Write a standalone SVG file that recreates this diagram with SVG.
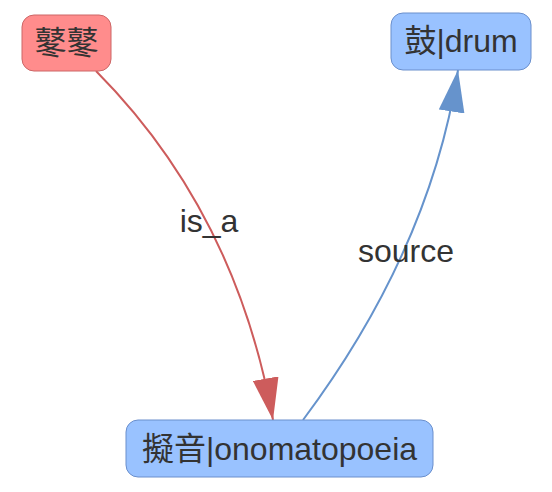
<svg xmlns="http://www.w3.org/2000/svg" width="552" height="492" viewBox="0 0 552 492">
<style>
text{font-family:"Liberation Sans","Noto Sans CJK SC",sans-serif;font-size:32px;fill:#333;text-anchor:middle}
.red rect{fill:#ff8c8c;stroke:#cc6666;stroke-width:1}
.blue rect{fill:#99c2ff;stroke:#6a8fcc;stroke-width:1}
.e{fill:none;stroke-width:2}
.er{stroke:#cd5c5c}
.eb{stroke:#6693cc}
</style>
<defs>
<marker id="ar" markerUnits="userSpaceOnUse" viewBox="0 0 42 26" refX="42" refY="13" markerWidth="42" markerHeight="26" orient="auto"><path d="M0,0 L42,13 L0,26 Z" fill="#cd5c5c"/></marker>
<marker id="ab" markerUnits="userSpaceOnUse" viewBox="0 0 42 26" refX="42" refY="13" markerWidth="42" markerHeight="26" orient="auto"><path d="M0,0 L42,13 L0,26 Z" fill="#6693cc"/></marker>
</defs>
<g id="edges">
<path class="e er" d="M96,71 Q236,212 273,420" marker-end="url(#ar)"/>
<text x="209" y="232">is_a</text>
<path class="e eb" d="M303,420 Q430,250 458,70" marker-end="url(#ab)"/>
<text x="406" y="262">source</text>
</g>
<g id="n1" class="red"><rect x="22" y="15" width="89" height="56" rx="12"/><text x="66.5" y="54">鼕鼕</text></g>
<g id="n2" class="blue"><rect x="391" y="13" width="140" height="57" rx="12"/><text x="461" y="52">鼓|drum</text></g>
<g id="n3" class="blue"><rect x="126" y="420" width="307" height="57" rx="12"/><text x="279.5" y="460">擬音|onomatopoeia</text></g>
</svg>
